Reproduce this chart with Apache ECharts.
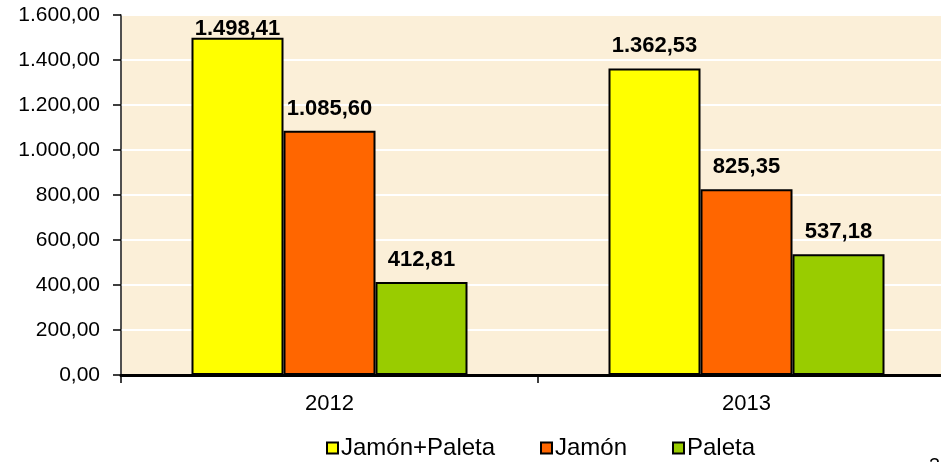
<!DOCTYPE html>
<html>
<head>
<meta charset="utf-8">
<script src="https://cdn.jsdelivr.net/npm/echarts@6/dist/echarts.min.js"></script>
<style>
  html, body { margin: 0; padding: 0; background: #ffffff; }
  #chart { width: 941px; height: 462px; }
</style>
</head>
<body>
<div id="chart"></div>
<script>
// Categories and series values
const years = ['2012', '2013'];
const jamonPaleta = [1498.41, 1362.53];
const jamon = [1085.60, 825.35];
const paleta = [412.81, 537.18];
const seriesNames = ['Jamón+Paleta', 'Jamón', 'Paleta'];

// Value axis range
const yMin = 0;
const yMax = 1600;
const yStep = 200;

// Spanish number format: 1.498,41
function fmtEs(v) {
  const parts = Math.abs(v).toFixed(2).split('.');
  const intPart = parts[0].replace(/\B(?=(\d{3})+(?!\d))/g, '.');
  return (v < 0 ? '-' : '') + intPart + ',' + parts[1];
}

const FONT = '"Liberation Sans", Arial, sans-serif';
const colors = ['#FFFF00', '#FF6600', '#99CC00'];

const labelStyle = {
  show: true,
  position: 'top',
  distance: 11,
  fontFamily: FONT,
  fontSize: 22,
  fontWeight: 'bold',
  color: '#000000',
  formatter: p => fmtEs(p.value)
};

function makeSeries(name, values, color, idx) {
  return {
    name: name,
    type: 'bar',
    barWidth: 92,
    barGap: '0%',
    data: values.map((v, i) => {
      // the tallest bar's label sits right on its top edge
      if (idx === 0 && i === 0) return { value: v, label: { distance: -2 } };
      return v;
    }),
    itemStyle: { color: color, borderColor: '#000000', borderWidth: 2 },
    label: labelStyle
  };
}

const legendBase = {
  orient: 'horizontal',
  top: 436,
  padding: 0,
  icon: 'rect',
  itemWidth: 11,
  itemHeight: 11,
  itemGap: 3,
  textStyle: { fontFamily: FONT, fontSize: 24, color: '#000000', padding: [0, 0, 0, -2] }
};

const chart = echarts.init(document.getElementById('chart'), null, { renderer: 'canvas' });
chart.setOption({
  animation: false,
  backgroundColor: '#ffffff',
  grid: {
    left: 121,
    top: 15,
    width: 834,
    height: 360,
    show: true,
    backgroundColor: '#FBEFD8',
    borderColor: '#808080',
    borderWidth: 2,
    containLabel: false,
    outerBoundsMode: 'none'
  },
  legend: [
    Object.assign({}, legendBase, { left: 326, data: [seriesNames[0]] }),
    Object.assign({}, legendBase, { left: 540, data: [seriesNames[1]] }),
    Object.assign({}, legendBase, { left: 672, data: [seriesNames[2]] })
  ],
  xAxis: {
    type: 'category',
    data: years,
    axisLine: { show: true, lineStyle: { color: '#000000', width: 3 } },
    axisTick: { show: true, alignWithLabel: false, length: 8, lineStyle: { color: '#000000', width: 1.5 } },
    axisLabel: { fontFamily: FONT, fontSize: 22, color: '#000000', margin: 18 },
    splitLine: { show: false }
  },
  yAxis: {
    type: 'value',
    min: yMin,
    max: yMax,
    interval: yStep,
    axisLine: { show: true, lineStyle: { color: '#404040', width: 1.5 } },
    axisTick: { show: true, inside: false, length: 8, lineStyle: { color: '#000000', width: 1.5 } },
    axisLabel: { fontFamily: FONT, fontSize: 21, color: '#000000', margin: 21, formatter: v => fmtEs(v) },
    splitLine: { show: true, lineStyle: { color: '#FFFFFF', width: 2 } }
  },
  series: [
    makeSeries(seriesNames[0], jamonPaleta, colors[0], 0),
    makeSeries(seriesNames[1], jamon, colors[1], 1),
    makeSeries(seriesNames[2], paleta, colors[2], 2)
  ],
  graphic: [
    {
      type: 'text',
      left: 929,
      top: 456,
      style: { text: '3', fontFamily: FONT, fontSize: 20, fill: '#000000' }
    }
  ]
});
</script>
</body>
</html>
